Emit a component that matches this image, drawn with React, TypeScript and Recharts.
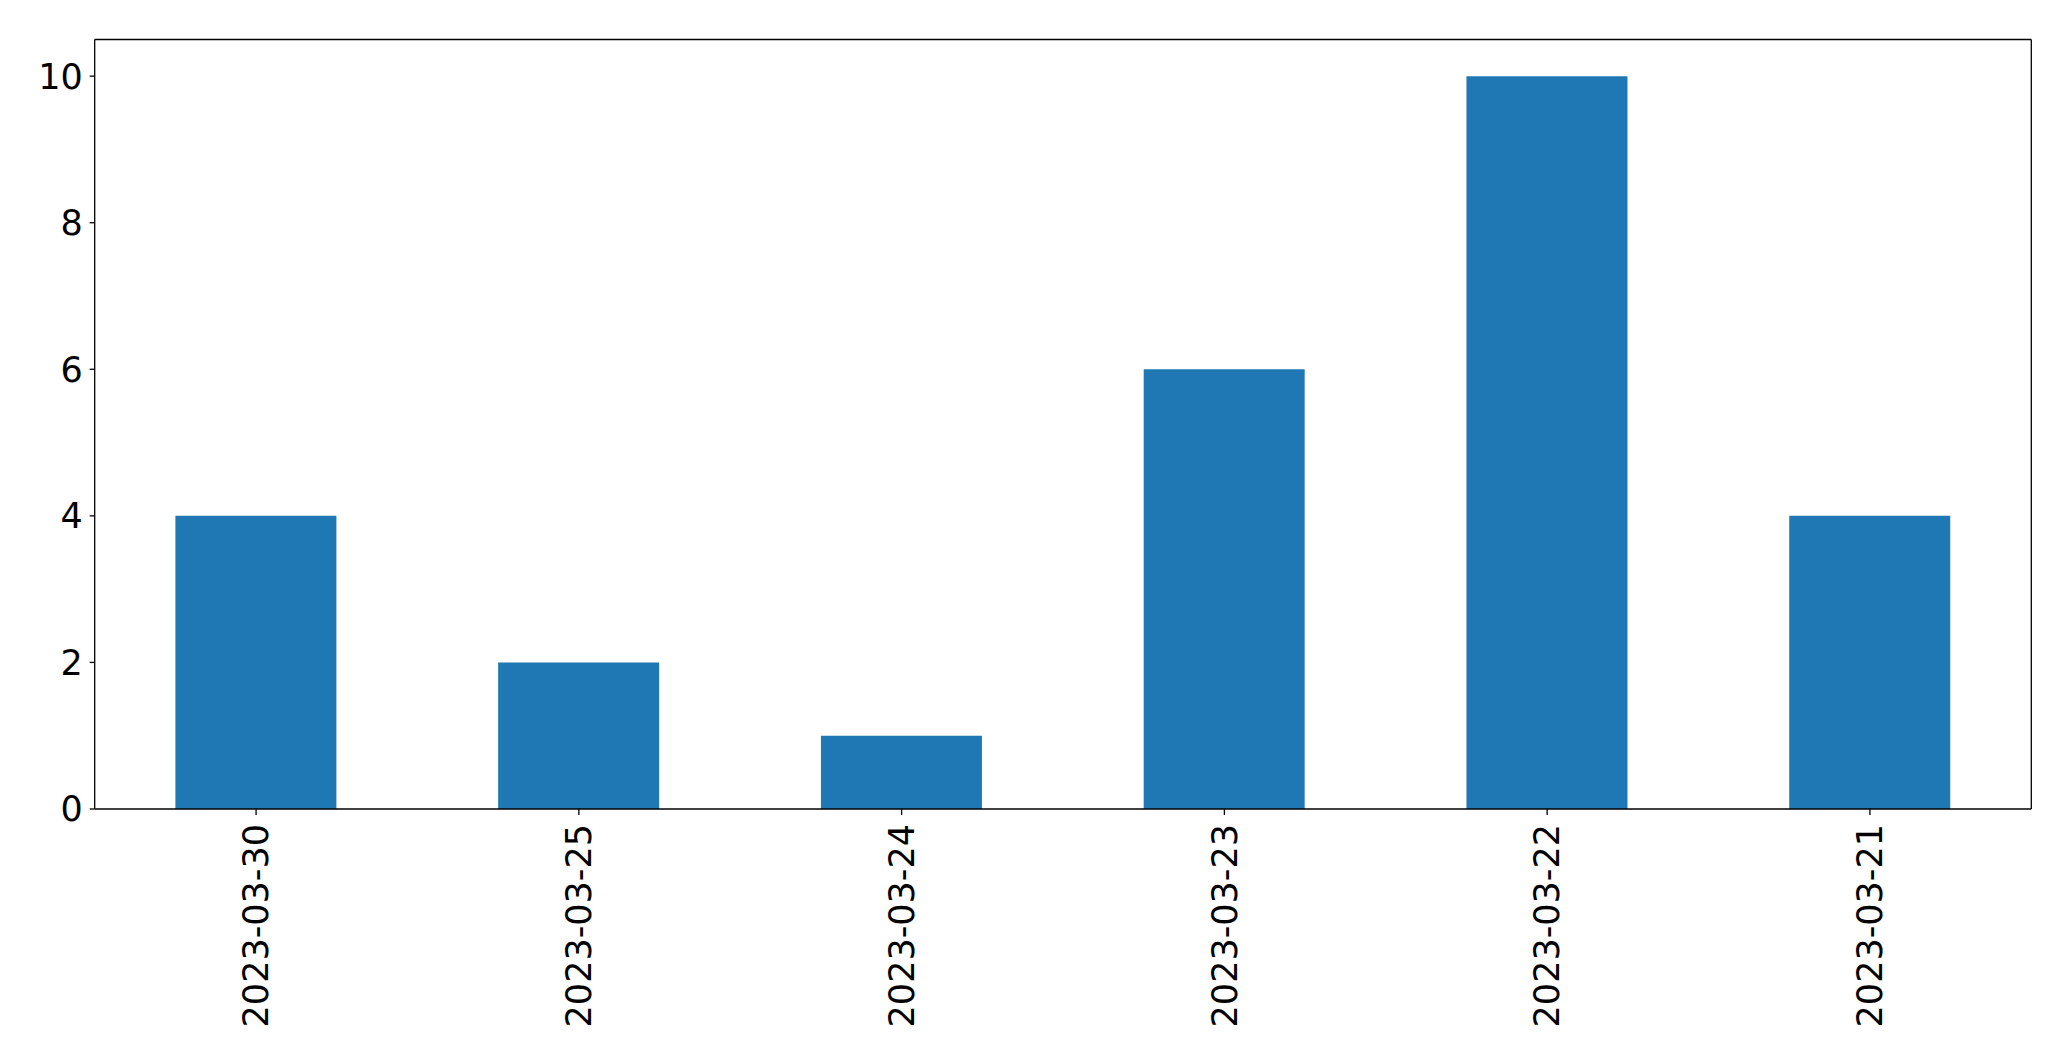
import { BarChart, Bar, XAxis, YAxis } from "recharts";

const dates = ["2023-03-30", "2023-03-25", "2023-03-24", "2023-03-23", "2023-03-22", "2023-03-21"];
const counts = [4, 2, 1, 6, 10, 4];
const yTicks = [0, 2, 4, 6, 8, 10];

const data = dates.map((d, i) => ({ date: d, count: counts[i] }));

const FONT = "DejaVu Sans";
const line = { stroke: "#000", strokeWidth: 1.3 };

function DateTick(props: any) {
  const { x, y, payload } = props;
  return (
    <g transform={`translate(${x},${y})`}>
      <text
        x={0}
        y={0}
        dy="0.35em"
        textAnchor="end"
        transform="rotate(-90)"
        fill="#000"
        fontSize={35}
        fontFamily={FONT}
      >
        {payload.value}
      </text>
    </g>
  );
}

export default function App() {
  return (
    <div style={{ position: "absolute", left: 0, top: 0, background: "#fff" }}>
      <BarChart
        width={2071}
        height={1061}
        data={data}
        margin={{ top: 38.5, right: 38.7, bottom: 0, left: 0 }}
        barCategoryGap="25%"
      >
        <XAxis
          dataKey="date"
          height={252}
          tick={<DateTick />}
          tickSize={6}
          tickMargin={9}
          interval={0}
          stroke="#000"
          axisLine={line}
          tickLine={line}
        />
        <XAxis
          xAxisId="top"
          dataKey="date"
          orientation="top"
          height={1}
          stroke="#000"
          tick={false}
          tickLine={false}
          axisLine={line}
        />
        <YAxis
          domain={[0, 10.5]}
          ticks={yTicks}
          width={94.7}
          tickSize={5}
          tickMargin={7}
          interval={0}
          stroke="#000"
          axisLine={line}
          tickLine={line}
          tick={{ fill: "#000", fontSize: 35, fontFamily: FONT }}
        />
        <YAxis
          yAxisId="right"
          orientation="right"
          domain={[0, 10.5]}
          width={1}
          stroke="#000"
          tick={false}
          tickLine={false}
          axisLine={line}
        />
        <Bar dataKey="count" fill="#1f77b4" isAnimationActive={false} />
      </BarChart>
    </div>
  );
}
